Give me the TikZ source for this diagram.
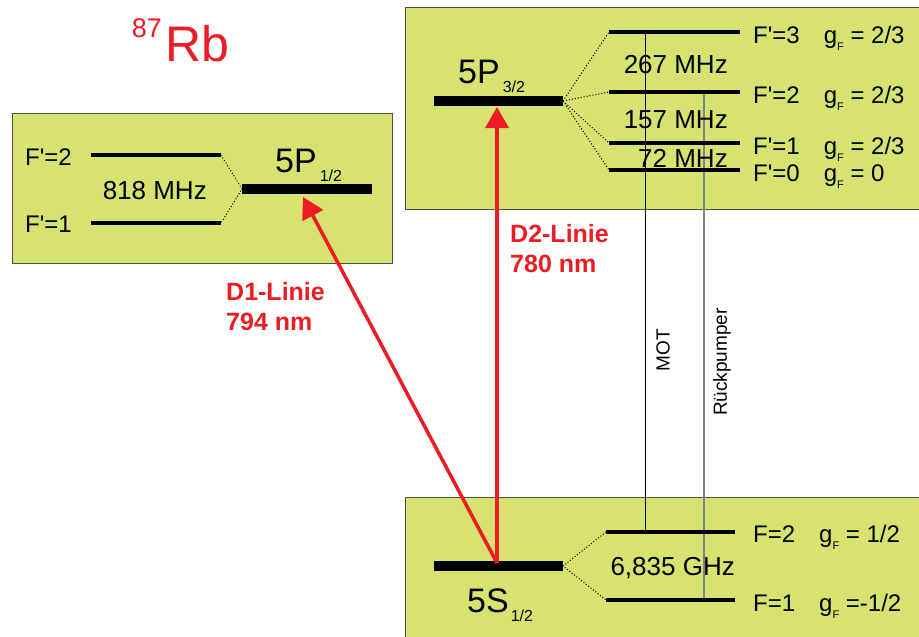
\documentclass[tikz,border=0pt]{standalone}
\usepackage{fontspec}
\setmainfont{Liberation Sans}
\usepackage{tikz}
\usetikzlibrary{arrows.meta}
\definecolor{boxgreen}{RGB}{216,226,112}
\definecolor{linered}{RGB}{237,28,36}
\newcommand{\gF}{g\raisebox{-0.3em}{\fontsize{11}{11}\selectfont F}}
\newcommand{\fs}[1]{\fontsize{#1}{#1}\selectfont}
\newcommand{\pr}{\textquotesingle}

\begin{document}
\begin{tikzpicture}[x=1pt, y=-1pt,
    box/.style={draw=black!70, line width=0.8pt, fill=boxgreen},
    bar/.style={line width=10pt},
    sublevel/.style={line width=4.5pt},
    split/.style={dotted, line width=1pt},
    laser/.style={linered, line width=3.5pt, -{Triangle[length=21pt,width=23pt]}},
    lbl/.style={anchor=base west, inner sep=0pt, font=\fs{24}},
    freq/.style={anchor=base east, inner sep=0pt, font=\fs{26}}]
    \useasboundingbox (0,0) rectangle (919,637);

    % boxes
    \draw[box] (12,113) rectangle (392,263);
    \draw[box] (405,7) rectangle (930,209);
    \draw[box] (405,497) rectangle (930,650);

    % 87Rb
    \node[anchor=base west, inner sep=0pt, text=linered, font=\fs{50}] (rb) at (165,61) {Rb};
    \node[anchor=base east, inner sep=0pt, text=linered, font=\fs{27}] (mass) at (162,37) {87};

    % coordinates of the levels
    \coordinate (p12l) at (242,189);  \coordinate (p12r) at (372,189);
    \coordinate (p12a) at (303,197);
    \coordinate (f2l) at (91,155);    \coordinate (f2r) at (221,155);
    \coordinate (f1l) at (91,223);    \coordinate (f1r) at (221,223);

    \coordinate (p32l) at (434,101);  \coordinate (p32r) at (563,101);
    \coordinate (p32a) at (497,107);
    \coordinate (g3l) at (609,32);    \coordinate (g3r) at (740,32);
    \coordinate (g2l) at (609,92);    \coordinate (g2r) at (740,92);
    \coordinate (g1l) at (609,143);   \coordinate (g1r) at (740,143);
    \coordinate (g0l) at (609,170);   \coordinate (g0r) at (740,170);

    \coordinate (s12l) at (434,566);  \coordinate (s12r) at (563,566);
    \coordinate (s12a) at (497,563);
    \coordinate (h2l) at (606,532);   \coordinate (h2r) at (735,532);
    \coordinate (h1l) at (606,600);   \coordinate (h1r) at (735,600);

    % MOT and repumper
    \coordinate (mottop) at (645,32);  \coordinate (motbot) at (645,532);
    \coordinate (reptop) at (704,92);  \coordinate (repbot) at (704,600);
    \draw[line width=0.9pt] (mottop) -- (motbot);
    \draw[line width=1.1pt, black!50] (reptop) -- (repbot);
    \node[rotate=90, inner sep=0pt, font=\fs{19}] (mot) at (663,350) {MOT};
    \node[rotate=90, inner sep=0pt, font=\fs{19}] (rep) at (722,362) {Rückpumper};

    % 5P1/2
    \draw[bar] (p12l) -- (p12r);
    \draw[sublevel] (f2l) -- (f2r);
    \draw[sublevel] (f1l) -- (f1r);
    \draw[split] (f2r) -- (p12l) -- (f1r);
    \node[lbl] (f2lbl) at (25,165) {F\pr=2};
    \node[lbl] (f1lbl) at (25,232) {F\pr=1};
    \node[freq] (hfs12) at (207,199) {818 MHz};
    \node[anchor=base west, inner sep=0pt, font=\fs{34}] (p12lbl) at (275,172) {5P\kern3pt\raisebox{-9pt}{\fs{16}1/2}};

    % 5P3/2
    \draw[bar] (p32l) -- (p32r);
    \draw[sublevel] (g3l) -- (g3r);
    \draw[sublevel] (g2l) -- (g2r);
    \draw[sublevel] (g1l) -- (g1r);
    \draw[sublevel] (g0l) -- (g0r);
    \draw[split] (p32r) -- (g3l);
    \draw[split] (p32r) -- (g2l);
    \draw[split] (p32r) -- (g1l);
    \draw[split] (p32r) -- (g0l);
    \node[lbl] (g3lbl) at (753,43) {F\pr=3\quad\gF{} = 2/3};
    \node[lbl] (g2lbl) at (753,103) {F\pr=2\quad\gF{} = 2/3};
    \node[lbl] (g1lbl) at (753,154) {F\pr=1\quad\gF{} = 2/3};
    \node[lbl] (g0lbl) at (753,181) {F\pr=0\quad\gF{} = 0};
    \node[freq] (hfs32a) at (728,73) {267 MHz};
    \node[freq] (hfs32b) at (728,128) {157 MHz};
    \node[freq] (hfs32c) at (728,167) {72 MHz};
    \node[anchor=base west, inner sep=0pt, font=\fs{34}] (p32lbl) at (458,83) {5P\kern3pt\raisebox{-9pt}{\fs{16}3/2}};

    % 5S1/2
    \draw[bar] (s12l) -- (s12r);
    \draw[sublevel] (h2l) -- (h2r);
    \draw[sublevel] (h1l) -- (h1r);
    \draw[split] (h2l) -- (s12r) -- (h1l);
    \node[lbl] (h2lbl) at (753,542) {F=2\quad\gF{} = 1/2};
    \node[lbl] (h1lbl) at (753,611) {F=1\quad\gF{} =-1/2};
    \node[freq] (hfs0) at (735,575) {6,835 GHz};
    \node[anchor=base west, inner sep=0pt, font=\fs{34}] (s12lbl) at (467,612) {5S\kern2pt\raisebox{-9pt}{\fs{16}1/2}};

    % D lines
    \draw[laser] (s12a) -- (p32a);
    \draw[laser] (s12a) -- (p12a);
    \node[anchor=base west, inner sep=0pt, text=linered, font=\fs{25}\bfseries, align=left] (d1) at (226,330) {D1-Linie\\[5pt]794 nm};
    \node[anchor=base west, inner sep=0pt, text=linered, font=\fs{25}\bfseries, align=left] (d2) at (510,272) {D2-Linie\\[5pt]780 nm};
\end{tikzpicture}
\end{document}
